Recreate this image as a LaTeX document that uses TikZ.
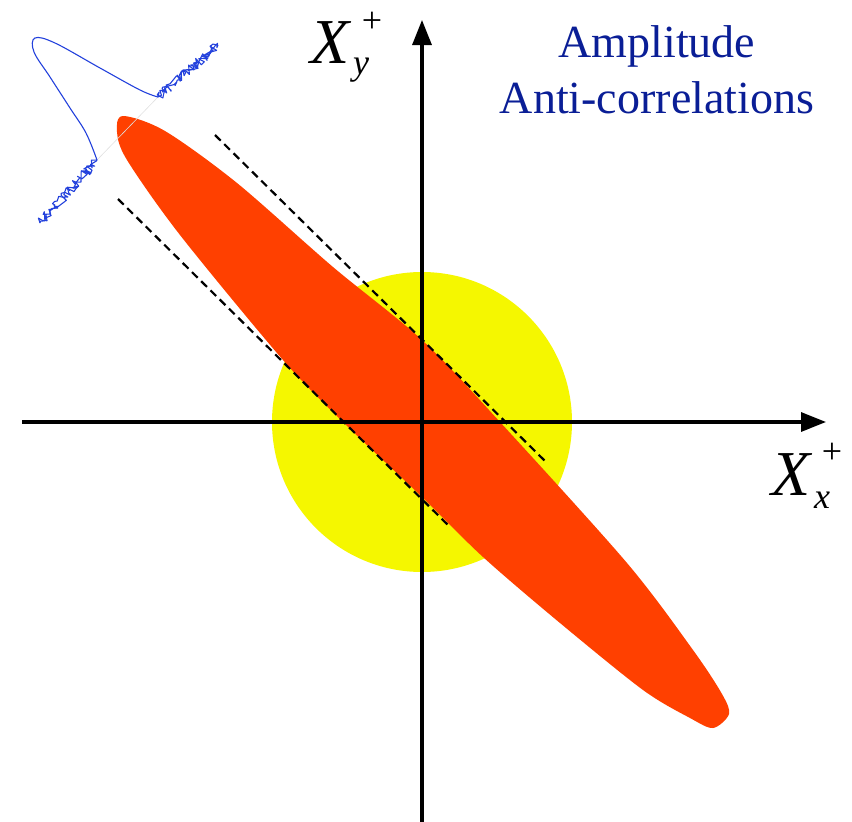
\documentclass[tikz,border=0pt]{standalone}
\usepackage{fontspec}
\setmainfont{Liberation Serif}
\usetikzlibrary{arrows.meta,decorations.pathmorphing}
\definecolor{squeezered}{RGB}{255,64,0}
\definecolor{vacyellow}{RGB}{245,247,0}
\definecolor{titleblue}{RGB}{10,30,150}
\definecolor{noiseblue}{RGB}{35,65,220}
\tikzset{
  axisline/.style={line width=3.2pt,-{Triangle[length=25pt,width=19pt]}},
  boundline/.style={line width=2.2pt,dash pattern=on 8pt off 5pt},
  biglabel/.style={inner sep=0pt,font=\fontsize{64}{64}\selectfont\itshape},
  sublabel/.style={inner sep=0pt,font=\fontsize{36}{36}\selectfont\itshape},
  suplabel/.style={inner sep=0pt,font=\fontsize{36}{36}\selectfont},
  titletext/.style={inner sep=0pt,text=titleblue,align=center,font=\fontsize{46}{56}\selectfont},
  noisy/.style={noiseblue,line width=1.1pt,line join=round,decorate,decoration={random steps,segment length=2pt,amplitude=4.5pt}},
  baseguide/.style={black!12,line width=0.6pt},
  smoothtrace/.style={noiseblue,line width=1.1pt}
}
\begin{document}
\begin{tikzpicture}[x=1pt,y=-1pt]
\pgfmathsetseed{7}
\useasboundingbox (0,0) rectangle (852,822);
% vacuum circle
\fill[vacyellow] (422,422) circle (150);
% squeezed ellipse
\fill[squeezered] plot[smooth cycle,tension=0.5] coordinates {
 (123,116) (165,131) (237,183) (333,267)
 (422,340) (500,422) (627,563) (693,650) (722,694) (729,714)
 (713,728) (690,718) (643,690) (560,623) (483,557) (422,497)
 (343,422) (283,360) (180,235) (127,160) (117,132)};
% dashed bounds
\coordinate (ua) at (215,135);
\coordinate (ub) at (546,462);
\coordinate (la) at (118,199);
\coordinate (lb) at (450,527);
\draw[boundline] (ua) -- (ub);
\draw[boundline] (la) -- (lb);
% axes
\coordinate (xs) at (22,422);
\coordinate (xe) at (826,422);
\coordinate (ys) at (422,822);
\coordinate (ye) at (422,20);
\draw[axisline] (xs) -- (xe);
\draw[axisline] (ys) -- (ye);
% axis labels
\node[biglabel,anchor=base west] (xyX) at (310,63) {X};
\node[sublabel,anchor=base west] (xysub) at (353,74) {y};
\node[suplabel] (xysup) at (372,22) {+};
\node[biglabel,anchor=base west] (xxX) at (771,495) {X};
\node[sublabel,anchor=base west] (xxsub) at (814,508) {x};
\node[suplabel] (xxsup) at (832,453) {+};
% title
\node[titletext,anchor=base] (title) at (657,113) {Amplitude\\Anti-correlations};
% noisy trace
\coordinate (n0) at (40,223);
\coordinate (n1) at (97,160);
\coordinate (n2) at (158,97);
\coordinate (n3) at (218,45);
\draw[baseguide] (n1) -- (n2);
\draw[noisy] (n0) -- (n1);
\draw[noisy] (n0) -- (n1);
\draw[smoothtrace] plot[smooth,tension=0.6] coordinates {(97,160) (86,133) (70,108) (50,77) (34,52) (35,38) (55,43) (100,68) (140,90) (158,97)};
\draw[noisy] (n2) -- (n3);
\draw[noisy] (n2) -- (n3);
\end{tikzpicture}
\end{document}
